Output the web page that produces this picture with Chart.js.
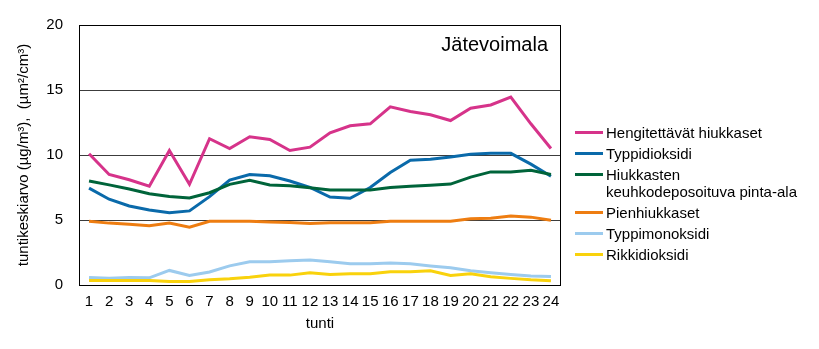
<!DOCTYPE html>
<html>
<head>
<meta charset="utf-8">
<script src="https://cdn.jsdelivr.net/npm/chart.js@4/dist/chart.umd.min.js"></script>
<style>
  body { margin: 0; background: #fff; font-family: "Liberation Sans", Arial, sans-serif; }
  #wrap { position: relative; width: 819px; height: 349px; }
  #title { position: absolute; right: 271px; top: 33px; font-size: 20px; color: #000; }
  #legend { position: absolute; left: 575px; top: 124px; list-style: none; margin: 0; padding: 0; font-size: 15px; color: #000; }
  #legend li { display: flex; align-items: flex-start; line-height: 17px; margin-bottom: 4px; }
  #legend .swatch { width: 28px; height: 3px; margin-top: 7px; margin-right: 3px; flex: none; }
</style>
</head>
<body>
<div id="wrap">
  <canvas id="chart" width="819" height="349"></canvas>
  <div id="title">Jätevoimala</div>
  <ul id="legend"></ul>
</div>
<script>
// tunnit
const tunnit = ["1","2","3","4","5","6","7","8","9","10","11","12","13","14","15","16","17","18","19","20","21","22","23","24"];

// tuntikeskiarvot
const hengitettavat = [10.1, 8.5, 8.1, 7.6, 10.35, 7.75, 11.25, 10.5, 11.4, 11.2, 10.35, 10.6, 11.7, 12.25, 12.4, 13.7, 13.35, 13.1, 12.65, 13.6, 13.85, 14.45, 12.4, 10.5];
const typpidioksidi = [7.45, 6.6, 6.08, 5.77, 5.55, 5.7, 6.8, 8.07, 8.5, 8.4, 8.0, 7.5, 6.77, 6.67, 7.5, 8.65, 9.6, 9.67, 9.85, 10.05, 10.13, 10.13, 9.3, 8.37];
const keuhkodeposoituva = [8.0, 7.7, 7.38, 7.02, 6.8, 6.7, 7.1, 7.74, 8.05, 7.7, 7.63, 7.48, 7.3, 7.3, 7.3, 7.5, 7.6, 7.68, 7.76, 8.3, 8.7, 8.7, 8.83, 8.5];
const pienhiukkaset = [4.9, 4.76, 4.68, 4.55, 4.76, 4.45, 4.9, 4.9, 4.9, 4.85, 4.8, 4.73, 4.78, 4.78, 4.78, 4.9, 4.9, 4.9, 4.9, 5.1, 5.13, 5.3, 5.22, 4.98];
const typpimonoksidi = [0.58, 0.52, 0.58, 0.55, 1.12, 0.74, 1.0, 1.47, 1.78, 1.78, 1.86, 1.93, 1.78, 1.63, 1.63, 1.7, 1.63, 1.47, 1.32, 1.09, 0.94, 0.81, 0.69, 0.66];
const rikkidioksidi = [0.35, 0.35, 0.35, 0.35, 0.27, 0.27, 0.4, 0.48, 0.6, 0.76, 0.76, 0.94, 0.81, 0.87, 0.87, 1.02, 1.02, 1.09, 0.74, 0.87, 0.64, 0.51, 0.4, 0.33];

const yTicks = [0, 5, 10, 15, 20];

const sarjat = [
  { label: ["Hengitettävät hiukkaset"], data: hengitettavat, color: "#d6338a" },
  { label: ["Typpidioksidi"], data: typpidioksidi, color: "#0a6aaa" },
  { label: ["Hiukkasten", "keuhkodeposoituva pinta-ala"], data: keuhkodeposoituva, color: "#00643a" },
  { label: ["Pienhiukkaset"], data: pienhiukkaset, color: "#ee7d11" },
  { label: ["Typpimonoksidi"], data: typpimonoksidi, color: "#9ccbee" },
  { label: ["Rikkidioksidi"], data: rikkidioksidi, color: "#f9d20c" }
];

// reunaviiva kuvaajan ympärille
const plotBorder = {
  id: "plotBorder",
  beforeDatasetsDraw(chart) {
    const { ctx, chartArea: a } = chart;
    ctx.save();
    ctx.strokeStyle = "#000";
    ctx.lineWidth = 1;
    ctx.strokeRect(a.left + 0.5, a.top + 0.5, a.right - a.left - 1, a.bottom - a.top);
    ctx.restore();
  }
};

const fontti = { family: "'Liberation Sans', Arial, sans-serif", size: 15 };

const chart = new Chart(document.getElementById("chart"), {
  type: "line",
  data: {
    labels: tunnit,
    // alimmat ensin, jotta päällekkäisyys vastaa alkuperäistä
    datasets: sarjat.map(s => ({
      label: s.label.join(" "),
      data: s.data,
      borderColor: s.color,
      backgroundColor: s.color,
      borderWidth: 3,
      pointRadius: 0,
      tension: 0
    })).reverse()
  },
  options: {
    responsive: false,
    animation: false,
    layout: { padding: { top: 23, right: 258, bottom: 0, left: 0 } },
    plugins: { legend: { display: false }, tooltip: { enabled: false } },
    scales: {
      x: {
        offset: true,
        grid: { display: false, drawTicks: false },
        border: { display: false },
        ticks: { color: "#000", font: fontti, padding: 8, maxRotation: 0, autoSkip: false },
        title: { display: true, text: "tunti", color: "#000", font: fontti, padding: { top: 4, bottom: 16 } },
        afterFit(scale) { scale.height = 64; }
      },
      y: {
        min: 0,
        max: 20,
        afterBuildTicks(scale) { scale.ticks = yTicks.map(v => ({ value: v })); },
        grid: { color: "#3c3c3c", lineWidth: 1, drawTicks: false },
        border: { display: false },
        ticks: { color: "#000", font: fontti, padding: 16 },
        title: { display: true, text: "tuntikeskiarvo (µg/m³),  (µm²/cm³)", color: "#000", font: fontti, padding: { top: 15, bottom: 0 } },
        afterFit(scale) { scale.width = 79; }
      }
    }
  },
  plugins: [plotBorder]
});

// selite HTML:nä
const ul = document.getElementById("legend");
sarjat.forEach(s => {
  const li = document.createElement("li");
  const sw = document.createElement("span");
  sw.className = "swatch";
  sw.style.background = s.color;
  const txt = document.createElement("span");
  txt.innerHTML = s.label.join("<br>");
  li.appendChild(sw);
  li.appendChild(txt);
  ul.appendChild(li);
});
</script>
</body>
</html>
